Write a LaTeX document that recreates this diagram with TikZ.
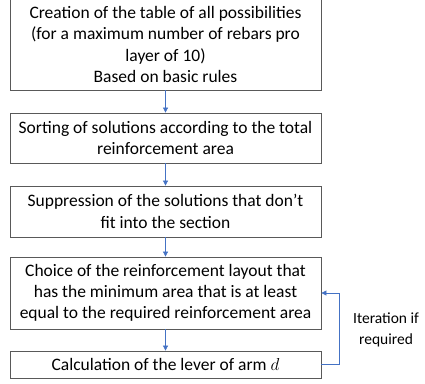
\documentclass[tikz,border=0pt]{standalone}
\usepackage{fontspec}
\setmainfont{Carlito}
\usetikzlibrary{arrows.meta}
\definecolor{arrowblue}{RGB}{68,114,196}
\definecolor{boxgray}{RGB}{89,89,89}
\tikzset{
  flowbox/.style={draw=boxgray, line width=0.8pt, minimum width=311pt, align=center,
    inner sep=0pt, font=\fontsize{17.5}{21.3}\selectfont},
  flowarrow/.style={draw=arrowblue, line width=0.7pt, -{Triangle[length=5pt,width=5pt]}},
  loplabel/.style={align=center, font=\fontsize{15.5}{21}\selectfont}
}
\begin{document}
\begin{tikzpicture}[x=1pt,y=1pt]
\useasboundingbox (0,0) rectangle (425,-383);
\node[flowbox, minimum height=91pt] (b1) at (165.5,-44.5) {Creation of the table of all possibilities\\(for a maximum number of rebars pro\\layer of 10)\\Based on basic rules};
\node[flowbox, minimum height=50pt] (b2) at (165.5,-138) {Sorting of solutions according to the total\\reinforcement area};
\node[flowbox, minimum height=51pt] (b3) at (165.5,-211.5) {Suppression of the solutions that don’t\\fit into the section};
\node[flowbox, minimum height=72pt] (b4) at (165.5,-293) {Choice of the reinforcement layout that\\has the minimum area that is at least\\equal to the required reinforcement area};
\node[flowbox, minimum height=27pt] (b5) at (165.5,-364.5) {Calculation of the lever of arm $d$};
\node[loplabel] (lab) at (386,-329.5) {Iteration if\\required};
\draw[flowarrow] (b1) -- (b2);
\draw[flowarrow] (b2) -- (b3);
\draw[flowarrow] (b3) -- (b4);
\draw[flowarrow] (b4) -- (b5);
\coordinate (loopx) at (339,-364.5);
\draw[flowarrow] (b5.east) -- (loopx) |- (b4.east);
\end{tikzpicture}
\end{document}
